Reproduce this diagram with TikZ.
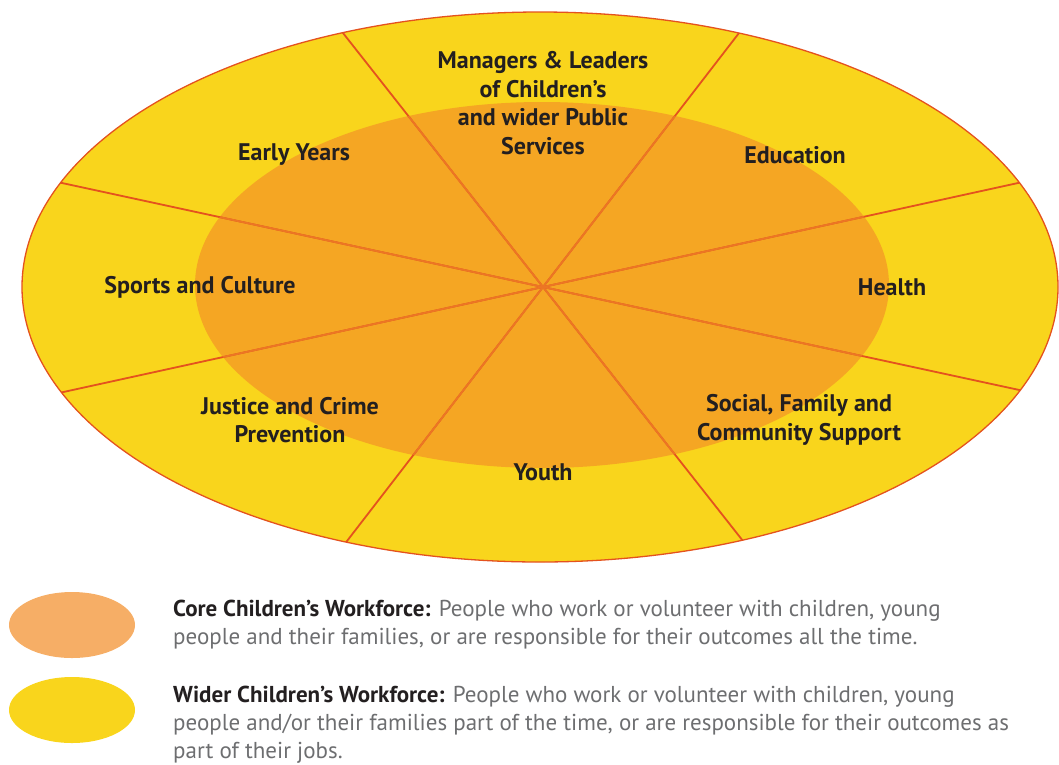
\documentclass[tikz,border=0pt]{standalone}
\usepackage{fontspec}
\setmainfont{PT Sans}
\usetikzlibrary{calc,shapes.geometric}
\definecolor{wideryellow}{HTML}{F9D51C}
\definecolor{coreorange}{HTML}{F5A623}
\definecolor{spokered}{HTML}{E4521E}
\definecolor{spokeinner}{HTML}{EC7624}
\definecolor{legendcore}{HTML}{F6AE66}
\definecolor{legendwider}{HTML}{F9D51C}
\definecolor{labeltext}{HTML}{231F20}
\definecolor{bodygray}{HTML}{6D6E70}
\tikzset{
  lab/.style={align=center, text=labeltext, font=\fontsize{24}{28.5}\selectfont\bfseries, inner sep=0pt},
  spoke/.style={line width=1.8pt, spokered},
  spokein/.style={line width=1.8pt, spokeinner},
  swatch/.style={ellipse, minimum width=126pt, minimum height=66pt, inner sep=0pt, draw=none},
  legline/.style={anchor=base west, inner sep=0pt, text=bodygray, font=\fontsize{23}{28}\selectfont},
}
\newcommand{\legbold}[1]{{\bfseries\color{labeltext}#1}}
\begin{document}
\begin{tikzpicture}[x=1pt,y=-1pt]
\useasboundingbox (0,0) rectangle (1059,764);
\coordinate (C) at (543,287);
% outer ellipse
\fill[wideryellow] (540,287) ellipse [x radius=518, y radius=275];
% inner ellipse
\fill[coreorange] (542,285) ellipse [x radius=347, y radius=183];
% spokes
\begin{scope}
  \clip (540,287) ellipse [x radius=518, y radius=275];
  \foreach \dx/\dy in {200/254, 196/-254, 481/104, 475/-104}{
    \draw[spoke] ($(C)+(-2*\dx,-2*\dy)$) -- ($(C)+(2*\dx,2*\dy)$);
  }
\end{scope}
\begin{scope}
  \clip (542,285) ellipse [x radius=347, y radius=183];
  \foreach \dx/\dy in {200/254, 196/-254, 481/104, 475/-104}{
    \draw[spokein] ($(C)+(-2*\dx,-2*\dy)$) -- ($(C)+(2*\dx,2*\dy)$);
  }
\end{scope}
\draw[spokered, line width=1.3pt] (540,287) ellipse [x radius=518, y radius=275];
% labels
\node[lab] (mgr) at (543,103) {Managers \& Leaders\\of Children’s\\and wider Public\\Services};
\node[lab] (early) at (294,155) {Early Years};
\node[lab] (edu) at (795,155) {Education};
\node[lab] (sports) at (200,287) {Sports and Culture};
\node[lab] (health) at (892,287) {Health};
\node[lab] (justice) at (290,420) {Justice and Crime\\Prevention};
\node[lab] (social) at (799,420) {Social, Family and\\Community Support};
\node[lab] (youth) at (543,472) {Youth};
% legend
\node[swatch, fill=legendcore] (coresw) at (72,625) {};
\node[swatch, fill=legendwider] (widersw) at (72,710) {};
\node[legline] (core1) at (173,616) {\legbold{Core Children’s Workforce:} People who work or volunteer with children, young};
\node[legline] (core2) at (173,644) {people and their families, or are responsible for their outcomes all the time.};
\node[legline] (wider1) at (173,702) {\legbold{Wider Children’s Workforce:} People who work or volunteer with children, young};
\node[legline] (wider2) at (173,730) {people and/or their families part of the time, or are responsible for their outcomes as};
\node[legline] (wider3) at (173,758) {part of their jobs.};
\end{tikzpicture}
\end{document}
